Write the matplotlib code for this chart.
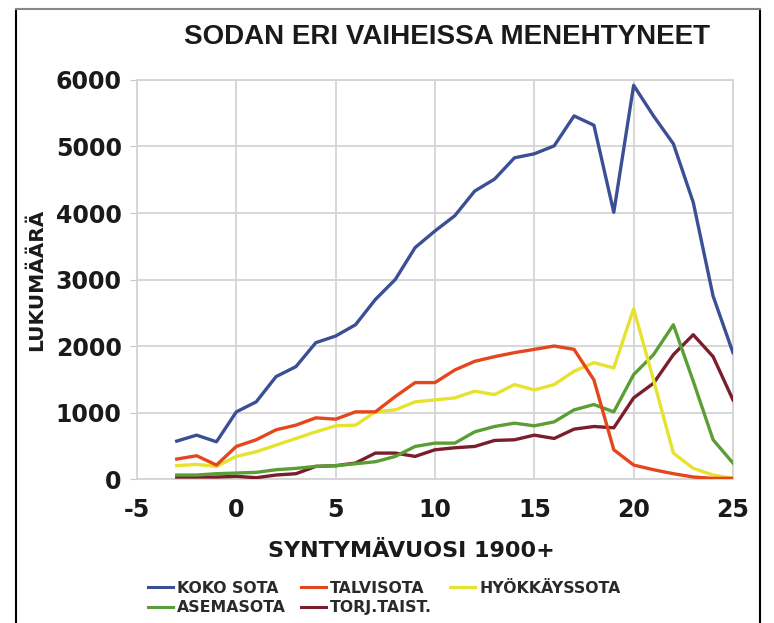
import matplotlib
matplotlib.use("Agg")
import matplotlib.pyplot as plt
from matplotlib.lines import Line2D

# birth year offset from 1900
years = list(range(-3, 26))

koko_sota = [570, 660, 560, 1010, 1160, 1540, 1690, 2050, 2150, 2320, 2700, 3000,
             3480, 3730, 3960, 4330, 4510, 4830, 4890, 5010, 5460, 5320, 4010,
             5920, 5460, 5040, 4160, 2750, 1900]
talvisota = [300, 350, 210, 490, 590, 740, 810, 920, 900, 1010, 1010, 1240,
             1450, 1450, 1640, 1770, 1840, 1900, 1950, 2000, 1950, 1490, 440,
             210, 140, 80, 30, 10, 10]
hyokkayssota = [200, 220, 190, 340, 410, 510, 610, 710, 800, 810, 1010, 1040,
                1160, 1190, 1220, 1320, 1270, 1420, 1340, 1420, 1620, 1750, 1670,
                2560, 1490, 390, 160, 60, 10]
asemasota = [60, 60, 80, 90, 100, 140, 160, 190, 200, 230, 260, 340,
             490, 540, 540, 710, 790, 840, 800, 860, 1040, 1120, 1010,
             1570, 1870, 2320, 1470, 590, 240]
torj_taist = [30, 30, 30, 40, 20, 60, 80, 190, 200, 240, 390, 390,
              340, 440, 470, 490, 580, 590, 660, 610, 750, 790, 770,
              1220, 1440, 1870, 2170, 1840, 1190]

series_names = ["KOKO SOTA", "TALVISOTA", "HYÖKKÄYSSOTA", "ASEMASOTA", "TORJ.TAIST."]
series_colors = ["#3b4f96", "#e4471c", "#e6e22e", "#5b9e35", "#7b1e2c"]

xticks = [-5, 0, 5, 10, 15, 20, 25]
yticks = [0, 1000, 2000, 3000, 4000, 5000, 6000]

fig = plt.figure(figsize=(7.74, 6.23), dpi=100)
ax = fig.add_axes([0.177, 0.2311, 0.770, 0.6405])

all_series = [koko_sota, talvisota, hyokkayssota, asemasota, torj_taist]
# draw back-to-front like the original
for vals, name, col in reversed(list(zip(all_series, series_names, series_colors))):
    ax.plot(years, vals, color=col, linewidth=2.4, label=name, zorder=3)

ax.set_xlim(-5, 25)
ax.set_ylim(0, 6000)
ax.set_xticks(xticks)
ax.set_yticks(yticks)
ax.grid(True, color="#d4d4d4", linewidth=1.3, zorder=0)
for sp in ax.spines.values():
    sp.set_color("#d4d4d4")
    sp.set_linewidth(1.3)

tick_font = dict(family="DejaVu Sans", weight="bold", size=17)
ax.set_xticklabels([str(t) for t in xticks], **tick_font, color="#1a1a1a")
ax.set_yticklabels([str(t) for t in yticks], **tick_font, color="#1a1a1a")
ax.tick_params(axis="x", length=0, pad=14)
ax.tick_params(axis="y", length=5, color="#c8c8c8", pad=6)

ax.set_ylabel("LUKUMÄÄRÄ", family="DejaVu Sans", weight="bold", size=14.5,
              color="#1a1a1a")
ax.yaxis.set_label_coords(-0.153, 0.5)

fig.text(0.577, 0.94, "SODAN ERI VAIHEISSA MENEHTYNEET", ha="center", va="center",
         family="Liberation Sans", weight="bold", size=20, color="#1a1a1a")
fig.text(0.531, 0.1156, "SYNTYMÄVUOSI 1900+", ha="center", va="center",
         family="DejaVu Sans", weight="bold", size=16, color="#1a1a1a")

# legend laid out row by row, one small legend per column
handles = [Line2D([], [], color=c, linewidth=2.2) for c in series_colors]
columns = [[0, 3], [1, 4], [2]]
col_x = [148, 301, 450]
for idx, x0 in zip(columns, col_x):
    leg = fig.legend([handles[i] for i in idx], [series_names[i] for i in idx],
                     loc="upper left", bbox_to_anchor=(x0 / 774, 0.068),
                     bbox_transform=fig.transFigure, frameon=False,
                     prop=dict(family="DejaVu Sans", weight="bold", size=11.3),
                     handlelength=1.6, handletextpad=0.25,
                     labelspacing=0.3, borderaxespad=0, borderpad=0)
    for t in leg.get_texts():
        t.set_color("#2a2a2a")

# frame around the picture (left, top, right)
fig.add_artist(Line2D([16 / 774, 16 / 774], [0, 1 - 9 / 623], color="black", linewidth=1.5,
                      transform=fig.transFigure))
fig.add_artist(Line2D([760 / 774, 760 / 774], [0, 1 - 9 / 623], color="black", linewidth=1.5,
                      transform=fig.transFigure))
fig.add_artist(Line2D([16 / 774, 760 / 774], [1 - 9 / 623, 1 - 9 / 623], color="#888888",
                      linewidth=1.5, transform=fig.transFigure))

fig.savefig("out.png", dpi=100)
